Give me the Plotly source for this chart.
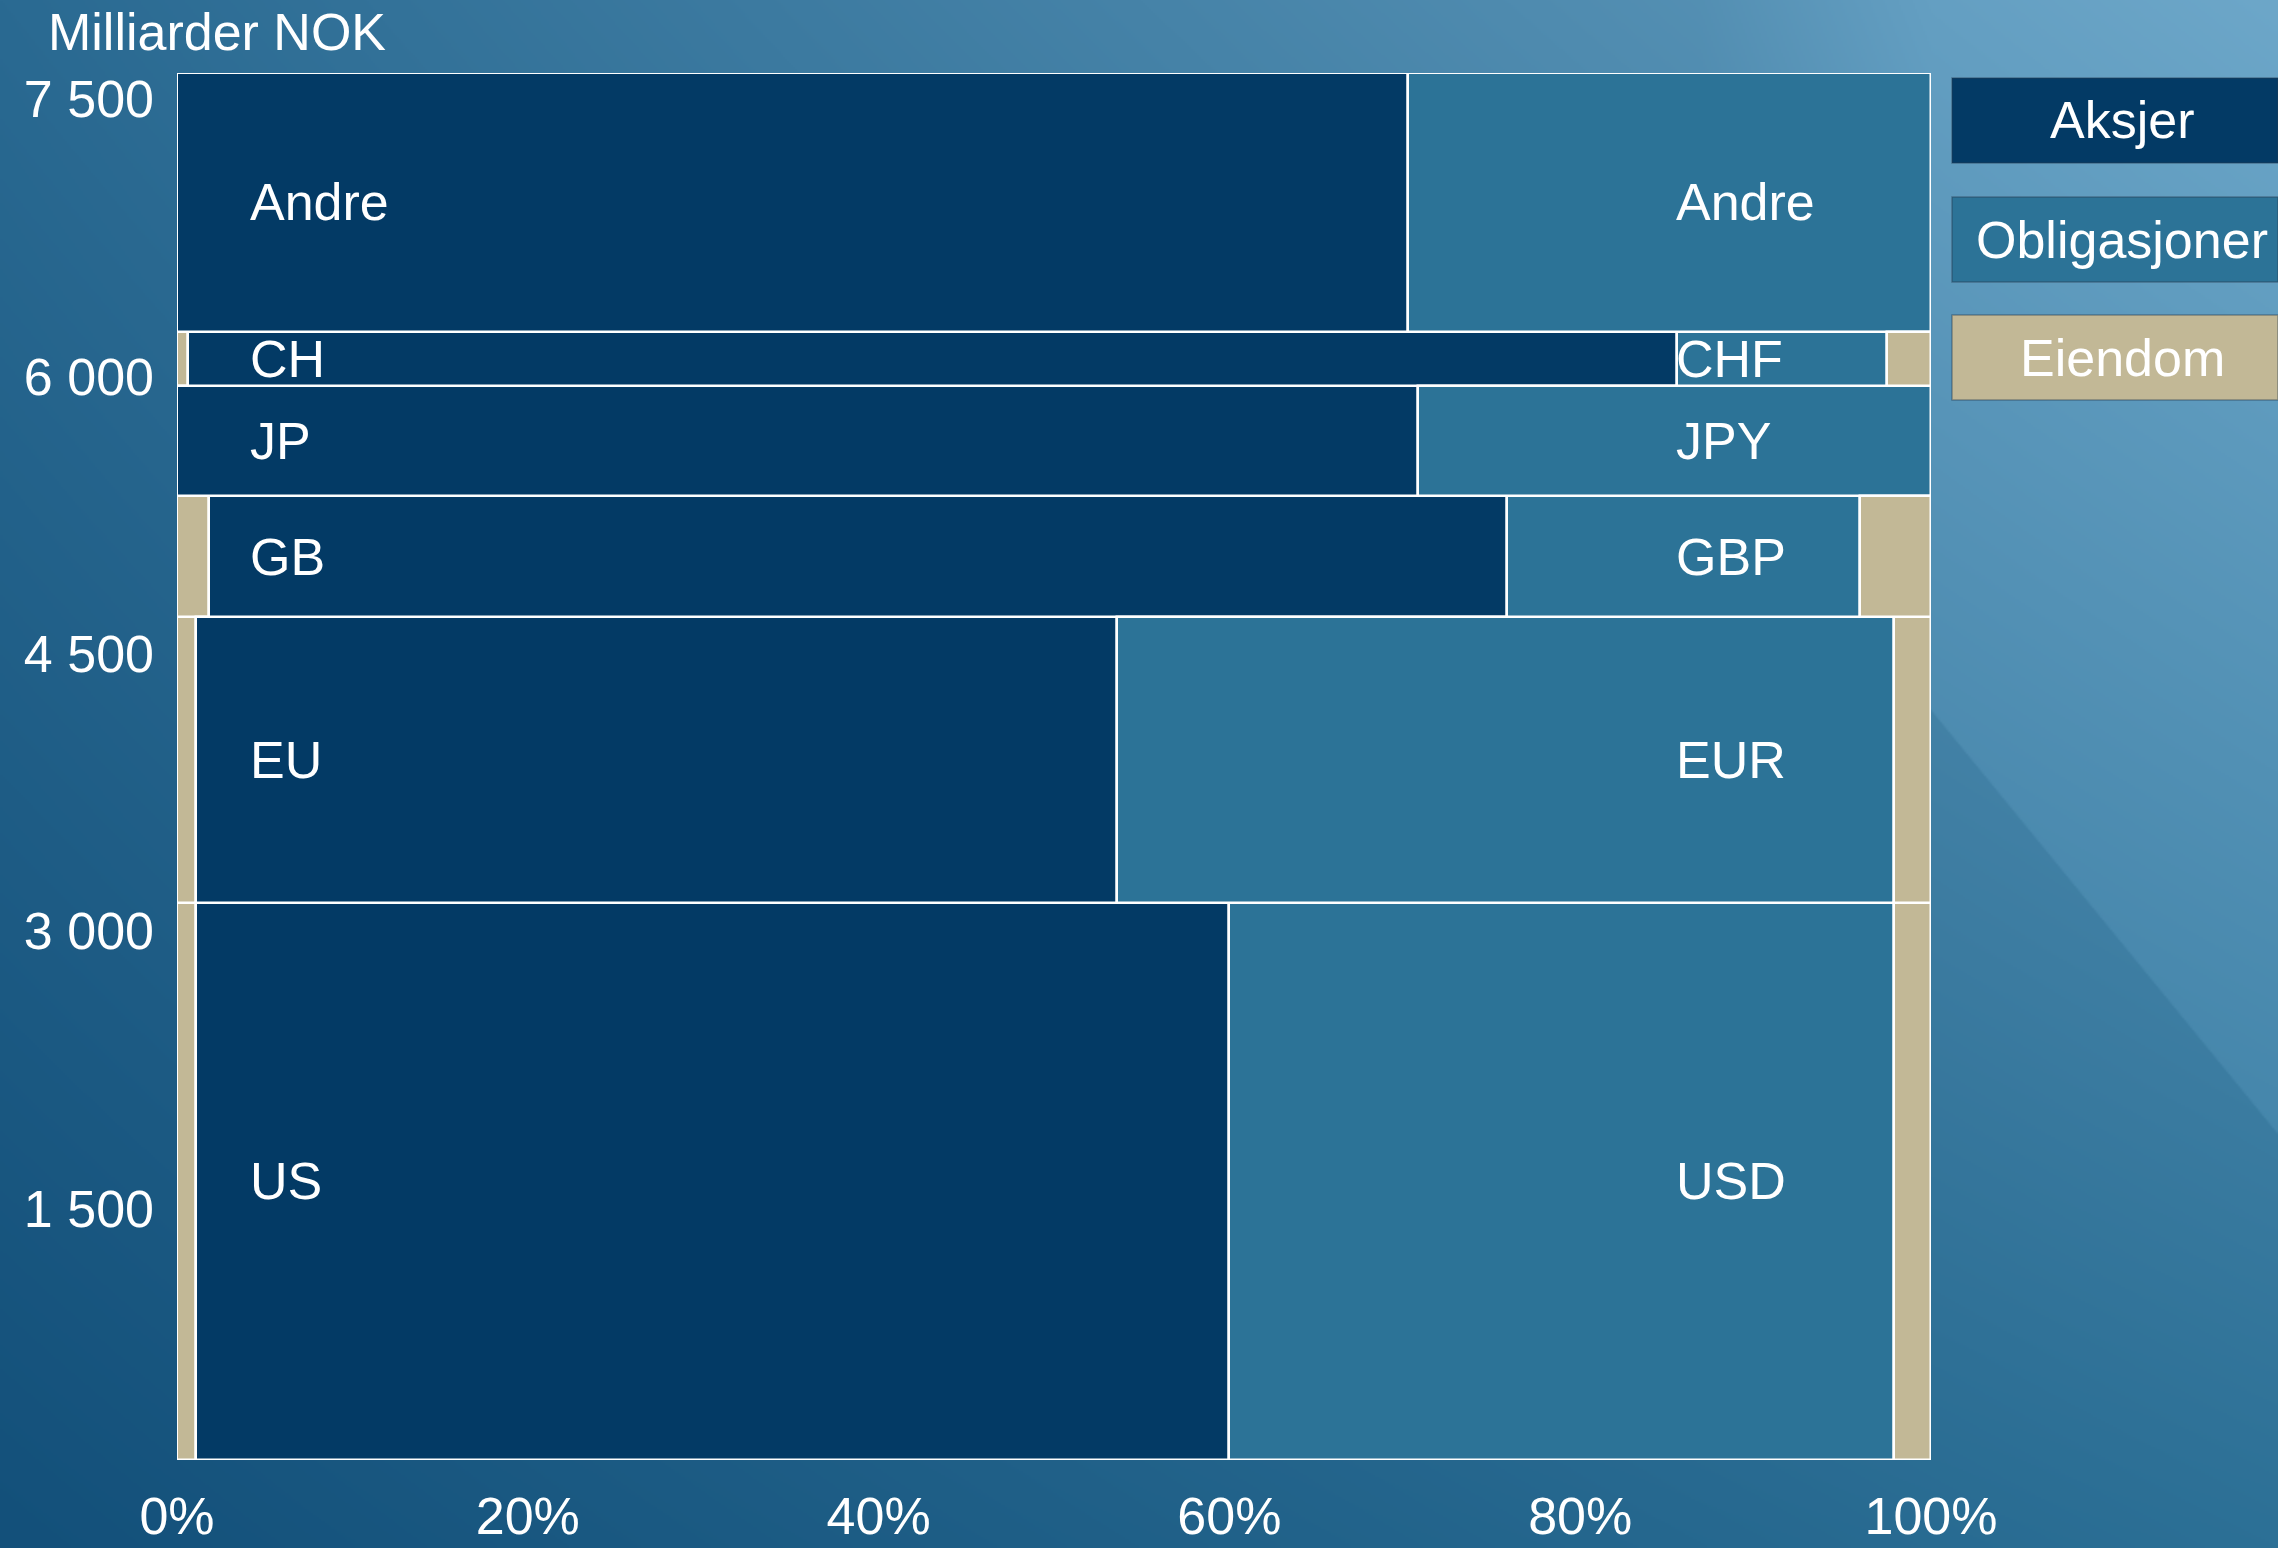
import base64, struct, zlib
import numpy as np
import plotly.graph_objects as go

# ---------------- data ----------------
regions = ["US", "EU", "GB", "JP", "CH", "Andre"]          # bottom -> top
currencies = ["USD", "EUR", "GBP", "JPY", "CHF", "Andre"]
row_totals = [3012, 1546, 655, 595, 292, 1400]              # Milliarder NOK
eiendom_left = [1.1, 1.1, 1.8, 0, 0.6, 0]                   # % of row
aksjer = [58.9, 52.5, 74.0, 70.75, 84.9, 70.2]
obligasjoner = [37.9, 44.3, 20.15, 29.25, 12.0, 29.8]
eiendom_right = [2.1, 2.1, 4.05, 0, 2.5, 0]
series_names = ["Aksjer", "Obligasjoner", "Eiendom"]
y_tickvals = [1500, 3000, 4500, 6000, 7500]
y_ticktext = ["1 500", "3 000", "4 500", "6 000", "7 500"]
x_tickvals = [0, 20, 40, 60, 80, 100]
x_ticktext = ["0%", "20%", "40%", "60%", "80%", "100%"]

# ---------------- styles ----------------
W, H = 2278, 1548
C_AKS = "#033a65"
C_OBL = "#2c7397"
C_EIE = "#c2b896"
FONT = "Arial, Liberation Sans, sans-serif"
FS = 52

# ---------------- background image ----------------
def make_bg():
    w, h = W // 2, H // 2
    xs = (np.arange(w) + 0.5) * W / w
    ys = (np.arange(h) + 0.5) * H / h
    X, Y = np.meshgrid(xs, ys)
    tx, ty = X / W, Y / H
    TL = np.array([42, 106, 146.0]); TR = np.array([98, 156, 190.0])
    BL = np.array([19, 80, 122.0]); BR = np.array([44, 112, 150.0])
    img = (TL * ((1 - tx) * (1 - ty))[..., None] + TR * (tx * (1 - ty))[..., None]
           + BL * ((1 - tx) * ty)[..., None] + BR * (tx * ty)[..., None])
    line_y = 711 + (X - 1931) * (1135 - 711) / (2278 - 1931)
    wedge = np.clip((line_y - Y) / 2.0, 0, 1) * np.clip((X - 1700) / 231.0, 0, 1)
    img = img + 11 * wedge[..., None]
    img = np.clip(img, 0, 255).astype(np.uint8)
    rows = img.reshape(h, w * 3).astype(np.int16)
    filt = rows.copy()
    filt[:, 3:] = (rows[:, 3:] - rows[:, :-3]) % 256
    raw = np.hstack([np.ones((h, 1), np.int16), filt]).astype(np.uint8).tobytes()

    def chunk(tag, data):
        return struct.pack(">I", len(data)) + tag + data + struct.pack(">I", zlib.crc32(tag + data) & 0xffffffff)

    png = (b"\x89PNG\r\n\x1a\n" + chunk(b"IHDR", struct.pack(">IIBBBBB", w, h, 8, 2, 0, 0, 0))
           + chunk(b"IDAT", zlib.compress(raw, 9)) + chunk(b"IEND", b""))
    return "data:image/png;base64," + base64.b64encode(png).decode()

# ---------------- geometry from data ----------------
centers = []
acc = 0
for t in row_totals:
    centers.append(acc + t / 2)
    acc += t

segments = [
    (eiendom_left, C_EIE, "Eiendom"),
    (aksjer, C_AKS, "Aksjer"),
    (obligasjoner, C_OBL, "Obligasjoner"),
    (eiendom_right, C_EIE, "Eiendom"),
]

fig = go.Figure()
base = [0.0] * len(regions)
for vals, col, name in segments:
    xs = [v if v > 0 else None for v in vals]
    fig.add_trace(go.Bar(
        orientation="h", y=centers, x=xs, base=list(base), width=row_totals,
        marker=dict(color=col, line=dict(color="white", width=2.5)),
        name=name, showlegend=False, hoverinfo="skip",
    ))
    base = [b + v for b, v in zip(base, vals)]

x0, x1 = 177 / W, 1931 / W
y0, y1 = 1 - 1460 / H, 1 - 73 / H

annotations = []
for c, r, cur in zip(centers, regions, currencies):
    annotations.append(dict(x=4.05, y=c, xref="x", yref="y", text=r, showarrow=False,
                            xanchor="left", yanchor="middle",
                            font=dict(family=FONT, size=FS, color="white")))
    annotations.append(dict(x=85.35, y=c, xref="x", yref="y", text=cur, showarrow=False,
                            xanchor="left", yanchor="middle",
                            font=dict(family=FONT, size=FS, color="white")))

annotations.append(dict(x=46 / W, y=1 - 32 / H, xref="paper", yref="paper", text="Milliarder NOK",
                        showarrow=False, xanchor="left", yanchor="middle",
                        font=dict(family=FONT, size=FS, color="white")))

shapes = []
legend_cols = [C_AKS, C_OBL, C_EIE]
legend_tops = [78, 197, 315]
for name, col, top in zip(series_names, legend_cols, legend_tops):
    shapes.append(dict(type="rect", xref="paper", yref="paper",
                       x0=1952 / W, x1=1.0, y0=1 - (top + 85) / H, y1=1 - top / H,
                       fillcolor=col, line=dict(color="rgba(40,60,80,0.45)", width=1.5)))
    annotations.append(dict(x=2122 / W, y=1 - (top + 42.5) / H, xref="paper", yref="paper",
                            text=name, showarrow=False, xanchor="center", yanchor="middle",
                            font=dict(family=FONT, size=FS, color="white")))

fig.update_layout(
    template="none",
    width=W, height=H, margin=dict(l=0, r=0, t=0, b=0, pad=0), autosize=False,
    paper_bgcolor="#2a6a92", plot_bgcolor="rgba(0,0,0,0)",
    barmode="overlay", bargap=0,
    showlegend=False,
    images=[dict(source=make_bg(), xref="paper", yref="paper", x=0, y=1, sizex=1, sizey=1,
                 xanchor="left", yanchor="top", sizing="stretch", layer="below")],
    xaxis=dict(domain=[x0, x1], range=[0, 100], tickvals=x_tickvals, ticktext=x_ticktext,
               showgrid=False, zeroline=False, showline=False, ticks="", automargin=False,
               ticklabelstandoff=21,
               tickfont=dict(family=FONT, size=FS, color="white"), fixedrange=True),
    yaxis=dict(domain=[y0, y1], range=[0, 7500], tickvals=y_tickvals, ticktext=y_ticktext,
               showgrid=False, zeroline=False, showline=False, ticks="", automargin=False,
               ticklabelstandoff=22, ticklabelshift=26,
               tickfont=dict(family=FONT, size=FS, color="white"), fixedrange=True),
    annotations=annotations, shapes=shapes,
)

fig.write_html("out.html", config={"displayModeBar": False},
               post_script="document.body.style.margin='0';document.body.style.overflow='hidden';")
